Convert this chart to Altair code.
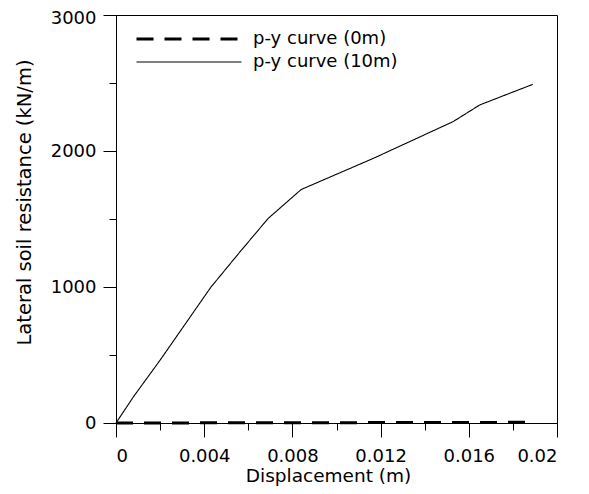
import altair as alt
import pandas as pd

# ---- data ----
disp_10m = [0, 0.0008, 0.002, 0.0043, 0.0056, 0.0069, 0.0084, 0.0117, 0.0153, 0.0165, 0.0189]
p_10m = [0, 195, 462, 998, 1254, 1504, 1717, 1948, 2217, 2339, 2490]

disp_0m = [0, 0.004, 0.008, 0.012, 0.016, 0.0188]
p_0m = [0, 1, 2, 3, 4, 5]

series_names = ["p-y curve (0m)", "p-y curve (10m)"]

x_ticks = [0, 0.002, 0.004, 0.006, 0.008, 0.01, 0.012, 0.014, 0.016, 0.018, 0.02]
y_ticks = [0, 500, 1000, 1500, 2000, 2500, 3000]

rows = []
for d, p in zip(disp_0m, p_0m):
    rows.append({"disp": d, "p": p, "series": series_names[0], "order": len(rows)})
for d, p in zip(disp_10m, p_10m):
    rows.append({"disp": d, "p": p, "series": series_names[1], "order": len(rows)})
df = pd.DataFrame(rows)

FONT = "DejaVu Sans"

# long horizontal stroke symbol (path scaled by sqrt(size)/2)
leg = alt.Legend(
    title=None,
    orient="none",
    legendX=58,
    legendY=9,
    symbolType="M-4,0H4",
    symbolSize=689,
    labelFontSize=18,
    labelFont=FONT,
    labelColor="black",
    labelOffset=49,
    rowPadding=0,
    padding=0,
)

x_axis = alt.Axis(
    values=x_ticks,
    title="Displacement (m)",
    labelExpr="round(datum.value*500) % 2 == 0 ? format(datum.value, '~g') : ''",
    tickSize={"condition": {"test": "round(datum.value*500) % 2 == 1", "value": 7}, "value": 14},
    labelPadding=10,
    titleFontSize=18.5,
    titleBaseline="alphabetic",
    titleX=212,
    titleY=58,
    grid=False,
)
y_axis = alt.Axis(
    values=y_ticks,
    title="Lateral soil resistance (kN/m)",
    labelExpr="round(datum.value/500) % 2 == 0 ? format(datum.value, 'd') : ''",
    tickSize={"condition": {"test": "round(datum.value/500) % 2 == 1", "value": 7}, "value": 13},
    labelOffset={"condition": {"test": "datum.value >= 3000", "value": 3}, "value": 0},
    labelPadding=7,
    titleFontSize=19.5,
    titlePadding=16,
    titleY=187,
    grid=False,
)

chart = (
    alt.Chart(df)
    .mark_line()
    .encode(
        x=alt.X("disp:Q", scale=alt.Scale(domain=[0, 0.02], nice=False, zero=False), axis=x_axis),
        y=alt.Y("p:Q", scale=alt.Scale(domain=[0, 3000], nice=False), axis=y_axis),
        color=alt.Color("series:N", scale=alt.Scale(domain=series_names, range=["black", "black"]), legend=leg),
        strokeDash=alt.StrokeDash(
            "series:N",
            scale=alt.Scale(domain=series_names, range=[[17, 11], [1, 0]]),
            legend=leg,
        ),
        strokeWidth=alt.StrokeWidth(
            "series:N",
            scale=alt.Scale(domain=series_names, range=[3, 1.1]),
            legend=leg,
        ),
        order="order:Q",
    )
    .properties(
        width=441,
        height=408,
        autosize=alt.AutoSizeParams(type="none"),
        padding={"left": 108, "top": 7, "right": 24, "bottom": 63},
        background="white",
    )
    .configure_view(stroke="black", strokeWidth=1)
    .configure_axis(
        domainColor="black",
        tickColor="black",
        labelColor="black",
        titleColor="black",
        labelFont=FONT,
        titleFont=FONT,
        labelFontSize=18,
        titleFontWeight="normal",
        domainWidth=1,
        tickWidth=1,
    )
)

chart.save("out.html", embed_options={"renderer": "svg", "actions": False})
